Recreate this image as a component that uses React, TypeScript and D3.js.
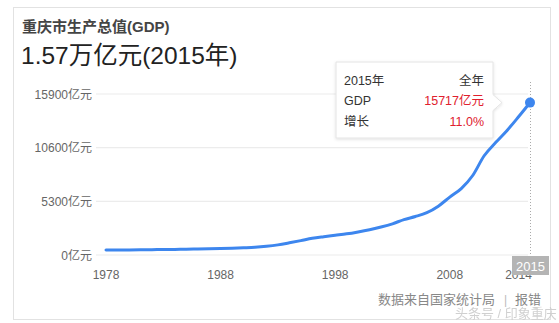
import React from "react";
import * as d3 from "d3";

const years = [1978, 1979, 1980, 1981, 1982, 1983, 1984, 1985, 1986, 1987, 1988, 1989, 1990, 1991, 1992, 1993, 1994, 1995, 1996, 1997, 1998, 1999, 2000, 2001, 2002, 2003, 2004, 2005, 2006, 2007, 2008, 2009, 2010, 2011, 2012, 2013, 2014, 2015];
const gdp = [490, 495, 505, 515, 525, 540, 555, 570, 590, 610, 640, 675, 715, 765, 860, 1000, 1200, 1420, 1650, 1810, 1950, 2090, 2280, 2500, 2760, 3080, 3500, 3800, 4180, 4820, 5720, 6560, 7850, 9800, 11100, 12300, 13650, 15050];
const yTicks = [0, 5300, 10600, 15900];
const xTicks = [1978, 1988, 1998, 2008, 2014];
const title = "重庆市生产总值(GDP)";
const headline = "1.57万亿元(2015年)";
const tipRows = [
  ["2015年", "全年"],
  ["GDP", "15717亿元"],
  ["增长", "11.0%"],
];
const highlightYear = 2015;

const FONT = "'Liberation Sans', Arial, 'Noto Sans CJK SC', sans-serif";

export default function App() {
  const W = 559, H = 323;
  const x = d3.scaleLinear().domain([1978, 2015]).range([106, 530]);
  const y = d3.scaleLinear().domain([0, 15900]).range([255, 94]);
  const data = years.map((yr, i) => ({ yr, v: gdp[i] }));
  const line = d3
    .line<{ yr: number; v: number }>()
    .x((d) => x(d.yr))
    .y((d) => y(d.v))
    .curve(d3.curveMonotoneX);
  const last = data[data.length - 1];
  const dx = x(last.yr), dy = y(last.v);

  const tipX = 336, tipY = 62, tipW = 157, tipH = 76;

  return (
    <svg width={W} height={H} style={{ position: "absolute", left: 0, top: 0, fontFamily: FONT }}>
      <defs>
        <filter id="sh" x="-10%" y="-10%" width="120%" height="130%">
          <feDropShadow dx="0" dy="1" stdDeviation="1.5" floodColor="#000" floodOpacity="0.12" />
        </filter>
      </defs>
      <rect x={0} y={0} width={W} height={H} fill="#fff" />
      <rect x={13.5} y={7.5} width={537} height={312} fill="#fff" stroke="#e2e2e2" />
      <text x={22} y={32} fontSize={15} fontWeight="bold" fill="#444">{title}</text>
      <text x={21} y={64} fontSize={24.5} fill="#222">{headline}</text>

      {yTicks.map((t) => (
        <g key={t}>
          <line x1={96} x2={528} y1={y(t)} y2={y(t)} stroke="#ececec" strokeWidth={1.2} />
          <text x={92} y={y(t) + 4.5} fontSize={12} fill="#666" textAnchor="end">{t}亿元</text>
        </g>
      ))}

      <line x1={dx + 0.5} x2={dx + 0.5} y1={82} y2={256} stroke="#aaa" strokeDasharray="1,2" />

      {xTicks.map((t) => (
        <text key={t} x={x(t)} y={279} fontSize={12} fill="#666" textAnchor="middle">{t}</text>
      ))}

      <path d={line(data) || ""} fill="none" stroke="#3d86ee" strokeWidth={3} strokeLinejoin="round" strokeLinecap="round" />
      <circle cx={dx} cy={dy} r={5} fill="#3d86ee" />

      <rect x={512} y={256} width={37} height={19} fill="#b4b4b4" />
      <text x={530.5} y={271} fontSize={13} fill="#fff" textAnchor="middle">{highlightYear}</text>

      <g filter="url(#sh)">
        <path
          d={`M${tipX},${tipY} H${tipX + tipW} V${dy - 8} L${tipX + tipW + 9},${dy} L${tipX + tipW},${dy + 8} V${tipY + tipH} H${tipX} Z`}
          fill="#fff"
          stroke="#e4e4e4"
        />
      </g>
      {tipRows.map((r, i) => (
        <g key={i}>
          <text x={344} y={84.5 + i * 20.5} fontSize={12.5} fill="#333">{r[0]}</text>
          <text x={484} y={84.5 + i * 20.5} fontSize={12.5} fill={i === 0 ? "#333" : "#e0202e"} textAnchor="end">{r[1]}</text>
        </g>
      ))}

      <text x={378} y={304} fontSize={13} fill="#888">数据来自国家统计局</text>
      <text x={504} y={304} fontSize={12} fill="#bbb">|</text>
      <text x={515} y={304} fontSize={13} fill="#888">报错</text>
      <text x={455} y={318} fontSize={13} fill="#ccc" opacity={0.9}>头条号 / 印象重庆</text>
    </svg>
  );
}
